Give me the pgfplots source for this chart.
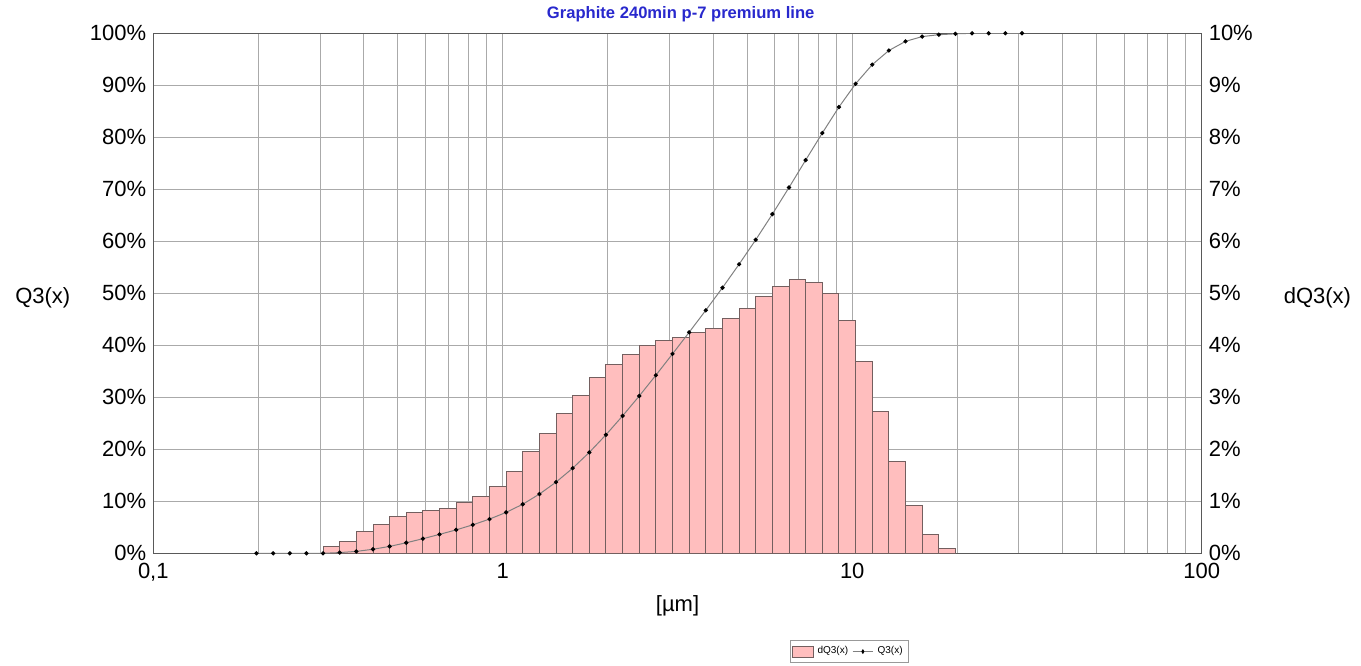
\documentclass[border=0pt]{standalone}
\usepackage{fontspec}
\setmainfont{Liberation Sans}
\usepackage{pgfplots}
\pgfplotsset{compat=1.18}
\usepackage{pgfplotstable}
\usetikzlibrary{calc}

\definecolor{barpink}{RGB}{255,190,190}
\definecolor{bardraw}{RGB}{115,95,95}
\definecolor{gridc}{RGB}{170,170,170}
\definecolor{titleblue}{RGB}{40,40,205}

% dQ3 per size class: lower class edge [um], share [%]
\pgfplotstableread{
x       dq
0.3061  0.14
0.3415  0.23
0.3811  0.41
0.4253  0.55
0.4746  0.70
0.5296  0.78
0.5909  0.83
0.6594  0.87
0.7358  0.97
0.8211  1.10
0.9162  1.29
1.0224  1.57
1.1409  1.95
1.2731  2.30
1.4206  2.68
1.5852  3.04
1.7689  3.38
1.9739  3.64
2.2026  3.82
2.4578  4.00
2.7427  4.10
3.0605  4.15
3.4151  4.24
3.8109  4.33
4.2525  4.52
4.7453  4.70
5.2952  4.93
5.9088  5.13
6.5935  5.26
7.3576  5.21
8.2102  5.00
9.1616  4.47
10.224  3.68
11.409  2.72
12.731  1.76
14.206  0.92
15.852  0.36
17.689  0.09
19.739  0
}\dqtable

% Q3 cumulative at class edges [%]
\pgfplotstableread{
x       q
0.1974  0
0.2203  0
0.2458  0
0.2743  0
0.3061  0
0.3415  0.14
0.3811  0.37
0.4253  0.78
0.4746  1.33
0.5296  2.03
0.5909  2.81
0.6594  3.64
0.7358  4.51
0.8211  5.48
0.9162  6.58
1.0224  7.87
1.1409  9.44
1.2731  11.39
1.4206  13.69
1.5852  16.37
1.7689  19.41
1.9739  22.79
2.2026  26.43
2.4578  30.25
2.7427  34.25
3.0605  38.35
3.4151  42.50
3.8109  46.74
4.2525  51.07
4.7453  55.59
5.2952  60.29
5.9088  65.22
6.5935  70.35
7.3576  75.61
8.2102  80.82
9.1616  85.82
10.224  90.29
11.409  93.97
12.731  96.69
14.206  98.45
15.852  99.37
17.689  99.73
19.739  99.90
22.026  100
24.578  100
27.427  100
30.605  100
}\qtable

\begin{document}
\begin{tikzpicture}
  % right axis: dQ3 bars and the grid
  \begin{axis}[
      width=524.2pt, height=260pt, scale only axis,
      xmode=log, xmin=0.1, xmax=100,
      ymin=0, ymax=10,
      tick style={draw=none},
      tick label style={font=\fontsize{11}{13}\selectfont},
      axis line style={draw=black!65, line width=0.7pt},
      ytick={0,1,...,10},
      yticklabels={0\%,1\%,2\%,3\%,4\%,5\%,6\%,7\%,8\%,9\%,10\%},
      yticklabel pos=right,
      xtick={0.1,1,10,100},
      xticklabels={{0,1},1,10,100},
      xticklabel style={yshift=-1.5pt},
      minor xtick={0.2,0.3,0.4,0.5,0.6,0.7,0.8,0.9,2,3,4,5,6,7,8,9,20,30,40,50,60,70,80,90},
      grid=both,
      major grid style={draw=gridc, line width=0.5pt},
      minor grid style={draw=gridc, line width=0.5pt},
      xlabel={[µm]},
      xlabel style={font=\fontsize{11}{13}\selectfont, at={(axis description cs:0.5,-0.1)}, anchor=center},
      ylabel={dQ3(x)},
      ylabel style={at={(axis description cs:1.0716,0.492)}, anchor=west, rotate=-90, font=\fontsize{11}{13}\selectfont},
    ]
    \addplot[ybar interval, fill=barpink, draw=bardraw, line width=0.5pt]
      table[x=x, y=dq] {\dqtable};
    \coordinate (SW) at (rel axis cs:0,0);
    \coordinate (NE) at (rel axis cs:1,1);
  \end{axis}

  % left axis: Q3 curve
  \begin{axis}[
      width=524.2pt, height=260pt, scale only axis,
      xmode=log, xmin=0.1, xmax=100,
      ymin=0, ymax=100,
      tick style={draw=none},
      tick label style={font=\fontsize{11}{13}\selectfont},
      axis line style={draw=black!65, line width=0.7pt},
      ytick={0,10,...,100},
      yticklabels={0\%,10\%,20\%,30\%,40\%,50\%,60\%,70\%,80\%,90\%,100\%},
      axis y line*=left,
      axis x line=none,
      ylabel={Q3(x)},
      ylabel style={at={(axis description cs:-0.1384,0.492)}, anchor=west, rotate=-90, font=\fontsize{11}{13}\selectfont},
      legend style={at={(axis description cs:0.664,-0.189)}, anchor=center,
        font=\fontsize{5}{6}\selectfont, draw=black!40, legend columns=2,
        inner sep=1pt},
      legend image post style={xscale=0.6},
    ]
    \addlegendimage{area legend, fill=barpink, draw=bardraw}
    \addlegendentry{dQ3(x)}
    \addplot[draw=black!50, line width=0.5pt, mark=*, mark size=0.8pt,
      mark options={fill=black, draw=black}]
      table[x=x, y=q] {\qtable};
    \addlegendentry{Q3(x)}
  \end{axis}

  % chart title
  \node[font=\bfseries\fontsize{8.3}{10}\selectfont, text=titleblue, anchor=center]
    at ($(NE)+(-260.5pt,9.5pt)$) {Graphite 240min p-7 premium line};

  \pgfresetboundingbox
  \path ($(SW)+(-76.65pt,-55.85pt)$) rectangle ($(NE)+(79.65pt,16.65pt)$);
\end{tikzpicture}
\end{document}
